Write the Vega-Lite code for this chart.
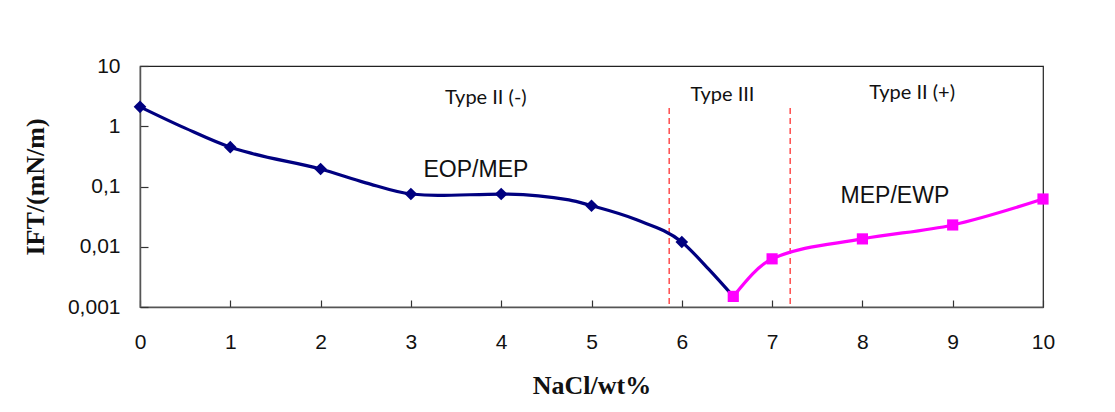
{
  "$schema": "https://vega.github.io/schema/vega-lite/v6.json",
  "autosize": "none",
  "width": 903,
  "height": 241,
  "padding": {"left": 140, "top": 66, "right": 72, "bottom": 105},
  "background": "white",
  "config": {
    "view": {"stroke": "#222", "strokeWidth": 1.2},
    "axis": {"grid": false, "labelFlush": false, "domainColor": "#555", "domainWidth": 1.5, "tickColor": "#333", "labelColor": "#111", "titleColor": "#111"}
  },
  "datasets": {
    "curve": [
      {"x": 0, "ift": 2.1, "series": "neg", "marker": true},
      {"x": 0.5, "ift": 0.93, "series": "neg", "marker": false},
      {"x": 1, "ift": 0.45, "series": "neg", "marker": true},
      {"x": 1.25, "ift": 0.35, "series": "neg", "marker": false},
      {"x": 2, "ift": 0.195, "series": "neg", "marker": true},
      {"x": 2.5, "ift": 0.115, "series": "neg", "marker": false},
      {"x": 3, "ift": 0.075, "series": "neg", "marker": true},
      {"x": 3.3, "ift": 0.071, "series": "neg", "marker": false},
      {"x": 4, "ift": 0.075, "series": "neg", "marker": true},
      {"x": 4.75, "ift": 0.06, "series": "neg", "marker": false},
      {"x": 5, "ift": 0.048, "series": "neg", "marker": true},
      {"x": 5.5, "ift": 0.028, "series": "neg", "marker": false},
      {"x": 6, "ift": 0.012, "series": "neg", "marker": true},
      {"x": 6.3, "ift": 0.0042, "series": "neg", "marker": false},
      {"x": 6.57, "ift": 0.0015, "series": "neg", "marker": false},
      {"x": 6.57, "ift": 0.0015, "series": "pos", "marker": true},
      {"x": 7, "ift": 0.0063, "series": "pos", "marker": true},
      {"x": 8, "ift": 0.0135, "series": "pos", "marker": true},
      {"x": 9, "ift": 0.023, "series": "pos", "marker": true},
      {"x": 10, "ift": 0.062, "series": "pos", "marker": true}
    ],
    "bounds": [
      {"x": 5.86, "top": 2.0, "bottom": 0.001},
      {"x": 7.2, "top": 2.0, "bottom": 0.001}
    ],
    "typeLabels": [
      {"x": 3.83, "ift": 3.0, "label": "Type II (-)"},
      {"x": 6.45, "ift": 3.25, "label": "Type III"},
      {"x": 8.55, "ift": 3.5, "label": "Type II (+)"}
    ],
    "phaseLabels": [
      {"x": 3.72, "ift": 0.188, "label": "EOP/MEP"},
      {"x": 8.36, "ift": 0.0695, "label": "MEP/EWP"}
    ]
  },
  "encoding": {
    "x": {
      "field": "x", "type": "quantitative",
      "scale": {"domain": [0, 10], "nice": false, "zero": false},
      "axis": {
        "values": [0, 1, 2, 3, 4, 5, 6, 7, 8, 9, 10],
        "title": "NaCl/wt%",
        "titleFont": "Liberation Serif", "titleFontSize": 26, "titleFontWeight": "bold", "titlePadding": 20,
        "labelFont": "Liberation Sans", "labelFontSize": 21, "labelPadding": 31,
        "tickSize": -7, "tickWidth": 1.2
      }
    },
    "y": {
      "field": "ift", "type": "quantitative",
      "scale": {"type": "log", "domain": [0.001, 10], "nice": false},
      "axis": {
        "values": [0.001, 0.01, 0.1, 1, 10],
        "labelExpr": "replace(toString(datum.value), '.', ',')",
        "title": "IFT/(mN/m)",
        "titleFont": "Liberation Serif", "titleFontSize": 26, "titleFontWeight": "bold", "titlePadding": 19,
        "labelFont": "Liberation Sans", "labelFontSize": 21, "labelPadding": 28,
        "tickSize": -8, "tickWidth": 1.2
      }
    }
  },
  "layer": [
    {
      "data": {"name": "bounds"},
      "mark": {"type": "rule", "color": "#ff2020", "strokeDash": [6, 4], "strokeWidth": 1.2},
      "encoding": {"y": {"field": "top", "type": "quantitative"}, "y2": {"field": "bottom"}}
    },
    {
      "data": {"name": "curve"},
      "mark": {"type": "line", "interpolate": "monotone", "strokeWidth": 3.2},
      "encoding": {
        "color": {"field": "series", "type": "nominal", "scale": {"domain": ["neg", "pos"], "range": ["#000080", "#ff00ff"]}, "legend": null}
      }
    },
    {
      "data": {"name": "curve"},
      "transform": [{"filter": "datum.marker && datum.series == 'neg'"}],
      "mark": {"type": "point", "shape": "diamond", "filled": true, "size": 160, "opacity": 1, "color": "#000080"}
    },
    {
      "data": {"name": "curve"},
      "transform": [{"filter": "datum.marker && datum.series == 'pos'"}],
      "mark": {"type": "square", "filled": true, "size": 125, "opacity": 1, "color": "#ff00ff"}
    },
    {
      "data": {"name": "typeLabels"},
      "mark": {"type": "text", "font": "Lato", "fontSize": 20, "color": "#111"},
      "encoding": {"text": {"field": "label"}}
    },
    {
      "data": {"name": "phaseLabels"},
      "mark": {"type": "text", "font": "Liberation Sans", "fontSize": 23, "color": "#111"},
      "encoding": {"text": {"field": "label"}}
    }
  ]
}
